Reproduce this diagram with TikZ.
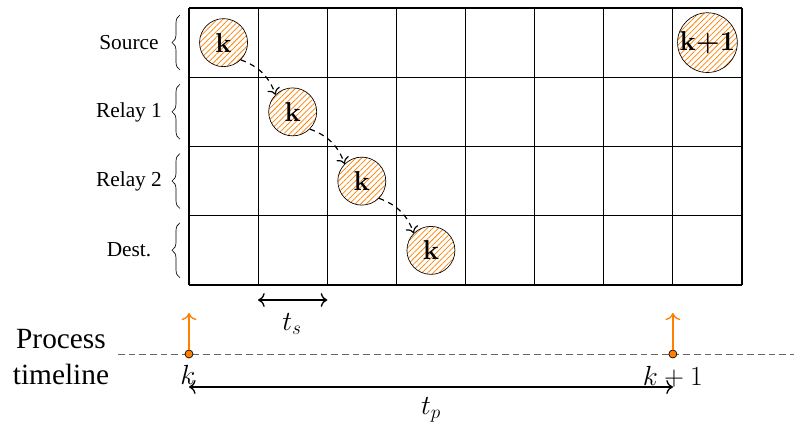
\documentclass[tikz,border=0pt]{standalone}
\usepackage{fontspec}
\newfontfamily\tnr{Liberation Serif}
\usetikzlibrary{patterns.meta,decorations.pathreplacing,arrows.meta}
\begin{document}
\begin{tikzpicture}[x=0.75pt,y=-0.75pt,
  gridline/.style={line width=0.8pt},
  pkt/.style={circle,draw,line width=0.5pt,inner sep=0pt,minimum size=36pt,
    pattern={Lines[angle=45,distance=3pt,line width=0.55pt]},pattern color=orange,
    font=\fontsize{20.5}{20.5}\selectfont\bfseries},
  flow/.style={dash pattern=on 4pt off 3.5pt,line width=0.9pt,-{To[scale=1.3]}},
  rowlabel/.style={font=\tnr\fontsize{16}{16}\selectfont},
  rowbrace/.style={decorate,decoration={brace,amplitude=6pt},line width=0.5pt},
  mathlbl/.style={font=\fontsize{20}{24}\selectfont},
  dot/.style={circle,draw,fill=orange,line width=0.5pt,inner sep=0pt,minimum size=6pt},
  tick/.style={orange,line width=1pt,-{To[scale=1.4]}},
  span/.style={line width=1pt,{To[scale=1.3]}-{To[scale=1.3]}},
]
\useasboundingbox (0,0) rectangle (794,429);
% grid
\foreach \i in {0,...,8}
  \draw[gridline] ({189+\i*69.125},8) -- ({189+\i*69.125},285);
\foreach \j in {0,...,4}
  \draw[gridline] (189,{8+\j*69.25}) -- (742,{8+\j*69.25});
% row labels and braces
\node[rowlabel] (lsrc) at (129,43) {Source};
\node[rowlabel] (lr1) at (129,112) {Relay 1};
\node[rowlabel] (lr2) at (129,181) {Relay 2};
\node[rowlabel] (ldst) at (129,250) {Dest.};
\foreach \j in {0,...,3}
  \draw[rowbrace] (180,{8+\j*69.25+62}) -- (180,{8+\j*69.25+7});
% packets
\node[pkt] (c1) at ({189+0.5*69.125},{8+0.5*69.25}) {k};
\node[pkt] (c2) at ({189+1.5*69.125},{8+1.5*69.25}) {k};
\node[pkt] (c3) at ({189+2.5*69.125},{8+2.5*69.25}) {k};
\node[pkt] (c4) at ({189+3.5*69.125},{8+3.5*69.25}) {k};
\node[pkt] (c5) at ({189+7.5*69.125},{8+0.5*69.25}) {k+1};
\draw[flow] (c1.south east) to[bend left=25] (c2.north west);
\draw[flow] (c2.south east) to[bend left=25] (c3.north west);
\draw[flow] (c3.south east) to[bend left=25] (c4.north west);
% t_s
\coordinate (s1) at (258.1,300);
\coordinate (s2) at (327.3,300);
\draw[span] (s1) -- (s2);
\node[mathlbl] (ts) at (292,324) {$t_s$};
% timeline
\coordinate (tl0) at (118,354);
\coordinate (tl1) at (794,354);
\draw[gray!80!black,line width=0.6pt,dash pattern=on 5pt off 3pt] (tl0) -- (tl1);
\node[font=\tnr\fontsize{22}{27.5}\selectfont,align=center] (proc) at (61,357) {Process\\timeline};
\coordinate (a0) at (189,313);
\coordinate (a1) at (672.9,313);
\node[dot] (d0) at (189,354) {};
\node[dot] (d1) at (672.9,354) {};
\draw[tick] (d0) -- (a0);
\draw[tick] (d1) -- (a1);
\node[mathlbl] (k0) at (188,375) {$k$};
\node[mathlbl] (k1) at (672.9,377) {$k+1$};
\coordinate (p0) at (189,387);
\coordinate (p1) at (672.9,387);
\draw[span] (p0) -- (p1);
\node[mathlbl] (tp) at (431,410) {$t_p$};
\end{tikzpicture}
\end{document}
